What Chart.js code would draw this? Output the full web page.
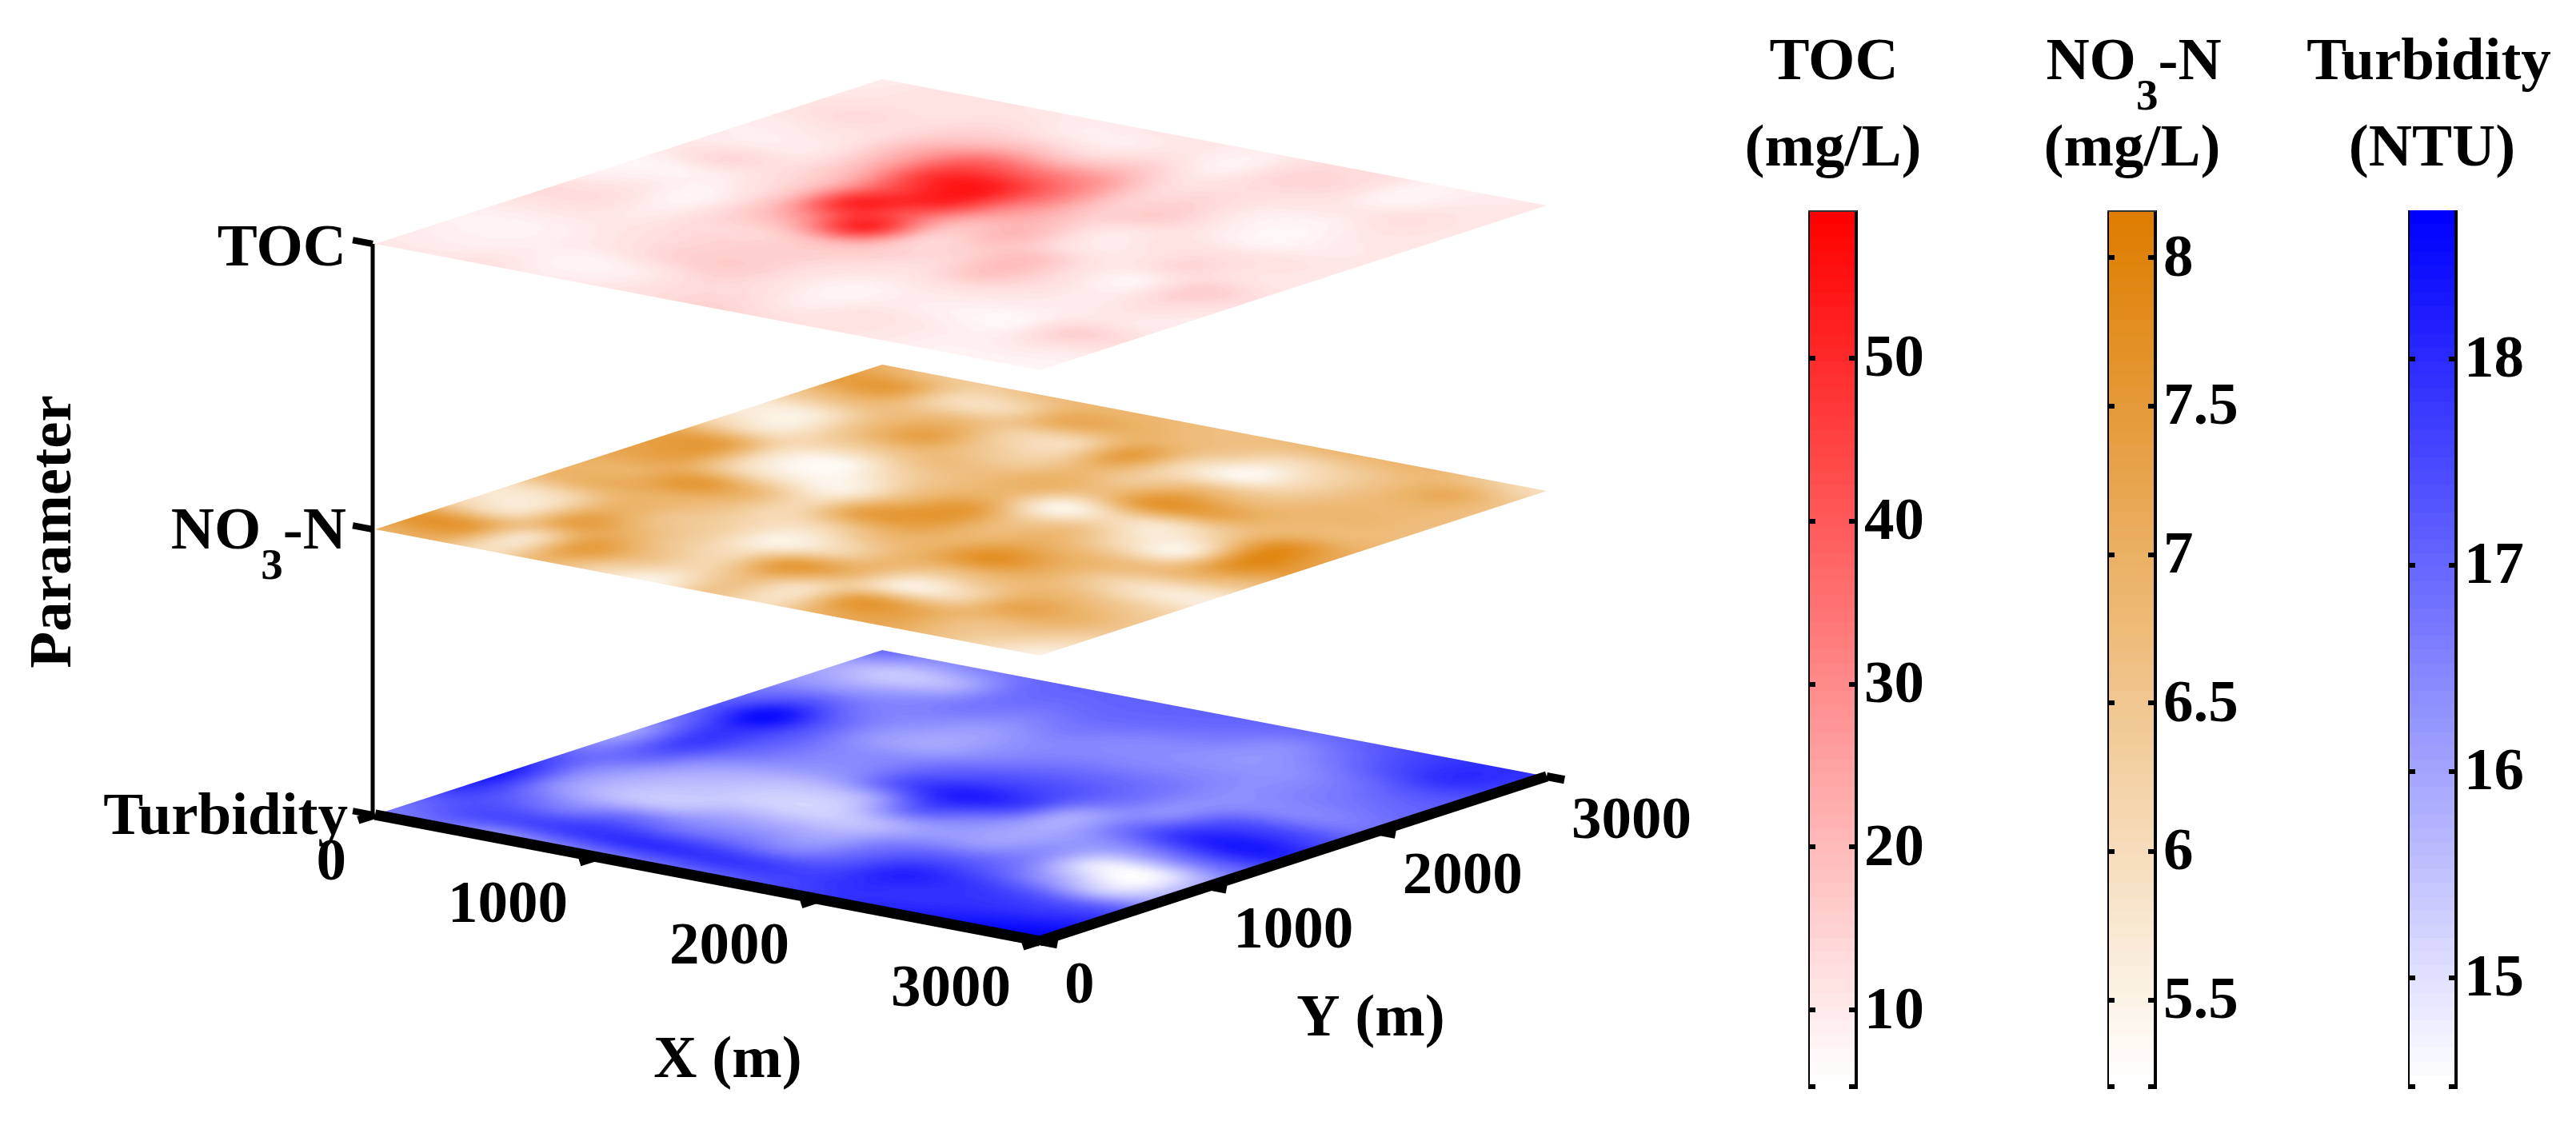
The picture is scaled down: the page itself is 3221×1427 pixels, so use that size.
<!DOCTYPE html>
<html><head><meta charset="utf-8">
<style>html,body{margin:0;padding:0;background:#fff}#wrap{position:relative;width:3221px;height:1427px;overflow:hidden}canvas{position:absolute}</style>
<script src="https://cdn.jsdelivr.net/npm/chart.js@4"></script></head>
<body><div id="wrap"><canvas id="main" width="3221" height="1427" style="left:0;top:0"></canvas>
<canvas id="cbToc"></canvas><canvas id="cbNo3"></canvas><canvas id="cbTur"></canvas></div>
<script>
// ---- data: rows are X = 0..3000 (step 250), columns Y = 0..3000 (step 250)
const gridX = [0,250,500,750,1000,1250,1500,1750,2000,2250,2500,2750,3000];
const gridY = [0,250,500,750,1000,1250,1500,1750,2000,2250,2500,2750,3000];
const xTicks = [0,1000,2000,3000];
const yTicks = [0,1000,2000,3000];
const zCategories = ['Turbidity','NO3-N','TOC'];
const tocValues = [
[10.5,9.5,8.4,10.5,13.2,9.5,7.3,10.5,9.5,9.5,11.6,10.5,9.5],
[10.5,8.9,7.8,10.5,12.7,10.5,8.4,13.8,9.5,10.5,13.2,11.6,11.6],
[11.6,9.5,9.5,10.5,9.5,7.8,10.5,12.7,11.6,12.7,12.7,11.6,11.6],
[9.5,7.8,11.6,12.7,13.5,16.0,19.0,20.2,24.0,24.0,17.0,12.7,10.5],
[10.5,9.5,14.9,14.9,15.0,30.0,50.0,44.0,48.3,38.6,20.2,10.5,9.5],
[12.7,13.2,15.9,15.9,20.0,50.0,42.0,52.0,52.6,36.0,17.0,9.5,10.5],
[14.9,12.7,11.6,12.7,15.9,17.0,20.0,29.4,35.0,29.4,18.1,11.6,10.5],
[12.7,9.5,7.8,10.5,13.2,15.9,20.2,18.6,17.0,14.9,11.6,8.4,8.9],
[11.6,11.6,9.5,11.6,18.1,18.6,11.6,10.5,15.9,14.3,12.7,13.8,12.7],
[10.5,10.5,8.4,10.5,12.7,11.6,10.5,11.6,10.5,9.5,11.6,13.2,12.7],
[8.4,8.9,7.3,9.5,9.5,8.4,13.8,11.6,7.3,7.8,10.5,7.8,8.4],
[7.8,10.5,14.9,10.5,12.7,15.9,11.6,11.6,9.5,10.5,12.2,10.5,9.5],
[7.3,9.5,12.7,9.5,10.5,12.7,10.5,10.5,10.5,10.5,10.5,10.5,10.5]];
const no3Values = [
[6.98,7.57,6.09,5.79,6.83,6.98,7.30,7.30,6.09,5.64,6.53,7.40,6.98],
[6.98,7.42,5.94,5.94,6.98,6.98,7.30,7.30,5.79,5.64,6.68,7.40,6.53],
[5.94,5.94,7.30,6.98,6.98,7.50,6.09,5.79,6.24,6.68,6.68,6.09,6.38],
[6.83,7.40,6.98,6.53,6.68,6.83,5.64,5.35,6.38,7.30,6.83,6.09,6.68],
[6.09,6.68,6.38,6.24,6.09,6.09,5.56,6.09,6.68,6.53,6.24,7.10,6.83],
[5.50,6.09,6.09,5.50,6.09,7.35,6.83,6.68,6.68,6.24,6.09,6.98,6.83],
[6.53,6.68,7.45,6.09,6.68,7.40,7.55,6.83,6.98,6.83,7.40,6.83,6.68],
[5.94,5.94,6.83,6.83,6.98,6.83,6.53,5.50,6.68,6.38,6.09,6.53,6.68],
[6.98,7.45,5.64,6.53,7.70,7.12,6.68,6.09,7.60,6.83,5.44,5.94,6.83],
[7.20,7.20,6.09,6.68,7.12,6.83,5.95,5.79,7.30,6.68,6.09,6.24,6.83],
[6.68,6.68,7.20,6.83,6.38,6.68,5.60,6.40,6.83,6.83,6.68,6.68,6.83],
[6.09,6.53,6.98,6.53,5.79,6.83,7.70,7.80,6.83,6.83,6.83,7.10,6.38],
[5.50,6.09,6.53,6.24,5.64,6.53,7.40,7.20,6.83,6.68,6.68,6.53,5.94]];
const turbidityValues = [
[16.59,17.02,17.87,18.21,17.53,16.59,16.08,16.80,17.23,16.80,16.16,15.95,16.93],
[16.80,17.44,17.10,16.38,16.38,17.02,17.66,17.90,18.50,17.30,16.08,15.40,16.38],
[16.16,17.53,16.59,15.60,15.70,16.16,16.90,17.20,17.20,16.70,16.38,15.74,16.59],
[16.38,17.78,17.02,15.50,15.45,15.74,16.38,16.50,16.20,16.38,16.70,16.80,17.02],
[16.59,17.95,16.80,15.95,15.25,15.50,16.38,16.50,16.00,16.08,16.50,16.90,17.10],
[16.80,17.87,16.80,15.95,15.25,15.74,17.44,17.10,16.50,16.40,16.70,17.00,17.10],
[17.02,17.78,16.59,15.95,15.65,17.23,18.21,17.53,16.90,16.50,16.50,16.90,17.10],
[17.44,17.66,17.23,16.80,16.16,16.59,17.66,17.44,17.00,16.50,16.40,16.70,17.02],
[17.78,17.95,18.08,17.23,16.16,15.95,15.95,16.80,16.80,16.50,16.25,16.38,16.93],
[18.08,17.87,17.87,17.02,16.40,16.25,16.80,16.38,16.38,16.38,16.38,16.80,17.23],
[18.29,17.95,17.53,16.00,14.89,16.38,17.87,17.44,16.50,16.59,16.80,17.44,17.66],
[18.63,18.08,17.23,15.10,14.67,16.80,18.29,17.66,16.59,16.80,17.23,17.95,17.95],
[18.72,18.29,17.44,15.95,15.95,17.02,18.08,17.44,16.80,17.02,17.23,17.66,17.87]];
const tocRange = [5.15,59.07];
const no3Range = [5.2,8.16];
const turbidityRange = [14.46,18.72];
const tocTicks = [10,20,30,40,50];
const no3Ticks = [5.5,6,6.5,7,7.5,8];
const turbidityTicks = [15,16,17,18];

// ---- styling and layout
const FONT = 'bold 75px "Liberation Serif"';
const SUBFONT = 'bold 55px "Liberation Serif"';
const TOC_RGB=[255,0,0], NO3_RGB=[222,125,0], TUR_RGB=[0,0,255];
const LEVELS = 64;
function project(X,Y,z){ return {x:469+X/3000*831+Y/3000*634, y:1019-357*z+X/3000*158-Y/3000*206}; }
function levelColor(t,rgb){
  const k=Math.max(0,Math.min(LEVELS-1,Math.floor(t*LEVELS)))/(LEVELS-1);
  return rgb.map(c=>Math.round(255+(c-255)*k));
}
function cubic(p0,p1,p2,p3,t){return p1+0.5*t*(p2-p0+t*(2*p0-5*p1+4*p2-p3+t*(3*(p1-p2)+p3-p0)));}
function sample(g,a,b){
  const n=g.length-1,m=g[0].length-1;
  const fa=Math.min(a*n,n-1e-6),fb=Math.min(b*m,m-1e-6);
  const i=Math.floor(fa),j=Math.floor(fb);
  const ci=r=>g[Math.max(0,Math.min(n,r))], cj=c=>Math.max(0,Math.min(m,c));
  const row=r=>cubic(ci(r)[cj(j-1)],ci(r)[cj(j)],ci(r)[cj(j+1)],ci(r)[cj(j+2)],fb-j);
  return cubic(row(i-1),row(i),row(i+1),row(i+2),fa-i);
}
function heatImage(grid,range,rgb){
  const N=260,c=document.createElement('canvas');c.width=N;c.height=N;
  const x=c.getContext('2d'),im=x.createImageData(N,N);
  for(let p=0;p<N;p++)for(let q=0;q<N;q++){
    const v=sample(grid,(p+.5)/N,(q+.5)/N),col=levelColor((v-range[0])/(range[1]-range[0]),rgb);
    const o=(q*N+p)*4;im.data[o]=col[0];im.data[o+1]=col[1];im.data[o+2]=col[2];im.data[o+3]=255;
  }
  x.putImageData(im,0,0);return c;
}
const heatLayers=[
 {z:2,grid:tocValues,range:tocRange,rgb:TOC_RGB},
 {z:1,grid:no3Values,range:no3Range,rgb:NO3_RGB},
 {z:0,grid:turbidityValues,range:turbidityRange,rgb:TUR_RGB}];
heatLayers.forEach(l=>l.img=heatImage(l.grid,l.range,l.rgb));

function nodes(grid,z){const o=[];grid.forEach((r,i)=>r.forEach((v,j)=>{const p=project(gridX[i],gridY[j],z);o.push({x:p.x,y:p.y,v});}));return o;}
function line(pts,w){return {data:pts,showLine:true,pointRadius:0,borderColor:'#000',borderWidth:w,fill:false,borderCapStyle:'butt',borderJoinStyle:'miter'};}
const shiftZ=p=>({x:p.x-3,y:p.y});
const datasets=[];
heatLayers.forEach(l=>datasets.push({label:zCategories[l.z],data:nodes(l.grid,l.z),pointRadius:0,showLine:false}));
datasets.push(line([project(0,0,0),project(3000,0,0)],13));
datasets.push(line([project(3000,0,0),project(3000,3000,0)],13));
datasets.push(line(zCategories.map((_,z)=>shiftZ(project(0,0,z))),5));
const TX=100,TY=80,TZ=90;
xTicks.forEach(X=>datasets.push(line([project(X,0,0),project(X,-TX,0)],10)));
yTicks.forEach(Y=>datasets.push(line([project(3000,Y,0),project(3000+TY,Y,0)],10)));
zCategories.forEach((_,z)=>datasets.push(line([shiftZ(project(0,0,z)),shiftZ(project(-TZ,0,z))],8)));

function put(ctx,t,x,y,al){ctx.textAlign=al||'center';ctx.fillText(t,x,y);}
function subText(ctx,a,s,b,x,y,align){ // a + subscript s + b
  ctx.textBaseline='alphabetic';
  ctx.font=FONT;const wa=ctx.measureText(a).width,wb=ctx.measureText(b).width;
  ctx.font=SUBFONT;const ws=ctx.measureText(s).width;
  const tot=wa+wb+ws;let l=align==='right'?x-tot:x-tot/2;
  ctx.textAlign='left';ctx.font=FONT;ctx.fillText(a,l,y);
  ctx.font=SUBFONT;ctx.fillText(s,l+wa,y+38);
  ctx.font=FONT;ctx.fillText(b,l+wa+ws,y);
}
const heatPlugin={id:'heat',beforeDatasetsDraw(ch){
  const c=ch.ctx,sx=ch.scales.x,sy=ch.scales.y;
  heatLayers.forEach(l=>{
    const o=project(0,0,l.z),ax=project(3000,0,l.z),ay=project(0,3000,l.z);
    const ox=sx.getPixelForValue(o.x),oy=sy.getPixelForValue(o.y);
    const N=l.img.width;
    c.save();c.imageSmoothingEnabled=true;
    c.transform((sx.getPixelForValue(ax.x)-ox)/N,(sy.getPixelForValue(ax.y)-oy)/N,(sx.getPixelForValue(ay.x)-ox)/N,(sy.getPixelForValue(ay.y)-oy)/N,ox,oy);
    c.drawImage(l.img,0,0);c.restore();
  });
}};
const textPlugin={id:'texts',afterDatasetsDraw(ch){
  const c=ch.ctx;c.save();c.fillStyle='#000';c.font=FONT;c.textBaseline='alphabetic';
  xTicks.forEach(X=>{const p=project(X,0,0);put(c,String(X),p.x-36,p.y+81,'right');});
  yTicks.forEach(Y=>{const p=project(3000,Y,0);put(c,String(Y),p.x+31,p.y+77,'left');});
  put(c,'TOC',433,332,'right');
  subText(c,'NO','3','-N',433,686,'right');
  c.font=FONT;put(c,'Turbidity',435,1043,'right');
  put(c,'X (m)',910,1347);put(c,'Y (m)',1714,1295);
  c.save();c.translate(88,665);c.rotate(-Math.PI/2);put(c,'Parameter',0,0);c.restore();
  put(c,'TOC',2293,99);put(c,'(mg/L)',2292,207);
  subText(c,'NO','3','-N',2668,99,'center');c.font=FONT;put(c,'(mg/L)',2666,207);
  put(c,'Turbidity',3037,99);put(c,'(NTU)',3041,207);
  c.restore();
}};
new Chart(document.getElementById('main'),{type:'scatter',data:{datasets},plugins:[heatPlugin,textPlugin],options:{
  responsive:false,animation:false,devicePixelRatio:1,layout:{padding:0},
  plugins:{legend:{display:false},tooltip:{enabled:false}},
  scales:{x:{type:'linear',min:0,max:3221,display:false},y:{type:'linear',min:0,max:1427,reverse:true,display:false}}}});

// ---- colour bars
const framePlugin={id:'frame',afterDatasetsDraw(ch,_,o){
  const c=ch.ctx,a=ch.chartArea,s=ch.scales.y;
  c.save();c.fillStyle='#000';
  c.fillRect(a.left,a.top,2,a.bottom-a.top);c.fillRect(a.right-3,a.top,4,a.bottom-a.top);
  if(o.topLine){c.fillStyle=o.topLine;c.fillRect(a.left,a.top,a.right-a.left,2);c.fillStyle='#000';}
  const vals=s.ticks.map(t=>t.value).concat(s.min);
  vals.forEach(v=>{const y=Math.round(s.getPixelForValue(v));const yy=v===s.min?y-6:y-3;
    c.fillRect(a.left,yy,9,6);c.fillRect(a.right-10,yy,10,6);});
  c.restore();
}};
function colorbar(id,left,range,ticks,rgb,topLine){
  const cv=document.getElementById(id),W=220,H=1099+20,PAD=10;
  cv.width=W;cv.height=H;cv.style.left=(left-PAD)+'px';cv.style.top=(263-PAD)+'px';
  new Chart(cv,{type:'bar',plugins:[framePlugin],
    data:{labels:[id],datasets:[{data:[range],barPercentage:1,categoryPercentage:1,borderWidth:0,
      backgroundColor(ctx){
        const a=ctx.chart.chartArea;if(!a)return 'rgb('+rgb+')';
        const g=ctx.chart.ctx.createLinearGradient(0,a.bottom,0,a.top);
        for(let i=0;i<LEVELS;i++){const col='rgb('+levelColor((i+.5)/LEVELS,rgb)+')';g.addColorStop(i/LEVELS,col);g.addColorStop((i+1)/LEVELS,col);}
        return g;}}]},
    options:{responsive:false,animation:false,devicePixelRatio:1,layout:{padding:{left:PAD,top:PAD,bottom:PAD,right:0}},
      plugins:{legend:{display:false},tooltip:{enabled:false},frame:{topLine}},
      scales:{x:{display:false},
        y:{type:'linear',position:'right',min:range[0],max:range[1],grid:{display:false},border:{display:false},
          afterBuildTicks(s){s.ticks=ticks.map(v=>({value:v}));},
          afterFit(s){s.width=W-PAD-61;s.paddingTop=0;s.paddingBottom=0;},
          ticks:{autoSkip:false,maxRotation:0,minRotation:0,padding:1,labelOffset:3,color:'#000',
            font:{family:'"Liberation Serif"',weight:'bold',size:75},callback:v=>String(v)}}}}});
}
colorbar('cbToc',2261,tocRange,tocTicks,TOC_RGB,'#333');
colorbar('cbNo3',2635,no3Range,no3Ticks,NO3_RGB,'#333');
colorbar('cbTur',3011,turbidityRange,turbidityTicks,TUR_RGB,null);
</script></body></html>
